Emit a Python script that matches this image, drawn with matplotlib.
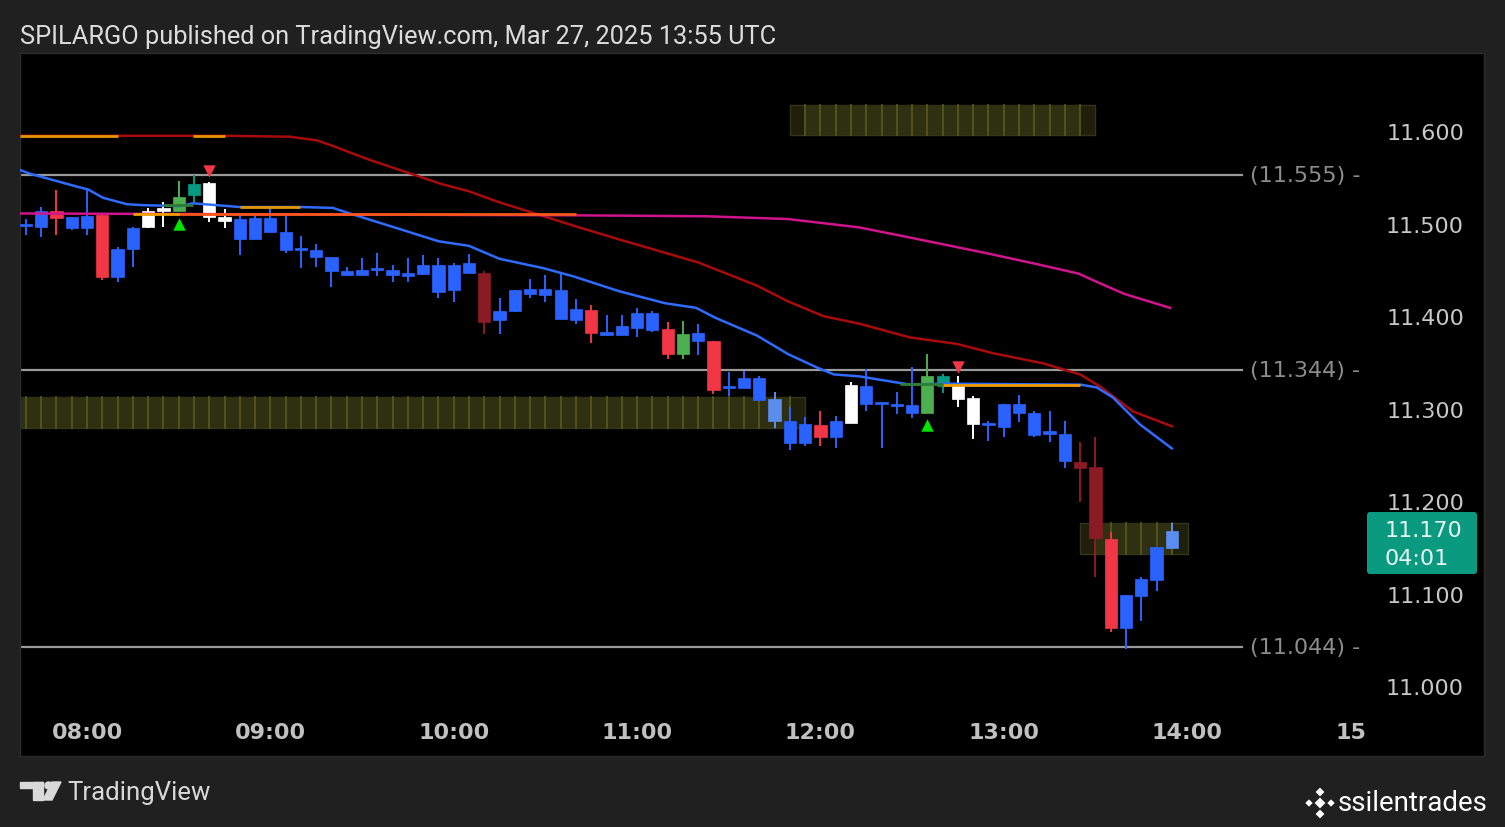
import numpy as np
import matplotlib
matplotlib.use("Agg")
import matplotlib.pyplot as plt
import matplotlib.transforms as mtrans
from matplotlib.patches import Rectangle, Polygon, Circle, FancyBboxPatch

# 5-minute bars, index 0 = 08:00 (first visible bar is 07:40)
bar_idx = np.arange(-4, 72)

opens = [11.499, 11.498, 11.516, 11.509, 11.497, 11.511, 11.444, 11.475, 11.498, 11.516,
         11.516, 11.533, 11.546, 11.509, 11.507, 11.485, 11.508, 11.493, 11.475, 11.474,
         11.466, 11.451, 11.447, 11.452, 11.452, 11.445, 11.448, 11.457, 11.430, 11.459,
         11.449, 11.398, 11.408, 11.431, 11.425, 11.430, 11.398, 11.409, 11.384, 11.382,
         11.389, 11.405, 11.388, 11.361, 11.384, 11.375, 11.324, 11.324, 11.335, 11.312,
         11.289, 11.265, 11.284, 11.271, 11.287, 11.326, 11.309, 11.307, 11.297, 11.297,
         11.326, 11.326, 11.313, 11.286, 11.282, 11.307, 11.297, 11.277, 11.275, 11.244,
         11.239, 11.161, 11.065, 11.099, 11.117, 11.151]
highs = [11.507, 11.520, 11.538, 11.509, 11.540, 11.512, 11.477, 11.498, 11.519, 11.525,
         11.548, 11.555, 11.547, 11.518, 11.510, 11.510, 11.519, 11.510, 11.489, 11.480,
         11.466, 11.455, 11.465, 11.470, 11.457, 11.465, 11.468, 11.465, 11.459, 11.469,
         11.451, 11.422, 11.430, 11.442, 11.446, 11.449, 11.421, 11.414, 11.403, 11.403,
         11.411, 11.408, 11.396, 11.397, 11.393, 11.375, 11.342, 11.343, 11.337, 11.320,
         11.304, 11.293, 11.299, 11.294, 11.331, 11.345, 11.309, 11.320, 11.347, 11.361,
         11.340, 11.337, 11.316, 11.289, 11.307, 11.317, 11.299, 11.299, 11.289, 11.266,
         11.271, 11.169, 11.101, 11.120, 11.152, 11.178]
lows = [11.490, 11.488, 11.490, 11.495, 11.490, 11.441, 11.439, 11.455, 11.497, 11.498,
        11.516, 11.525, 11.504, 11.497, 11.468, 11.485, 11.493, 11.470, 11.454, 11.455,
        11.434, 11.445, 11.446, 11.445, 11.439, 11.439, 11.447, 11.422, 11.417, 11.449,
        11.383, 11.383, 11.406, 11.422, 11.417, 11.399, 11.393, 11.373, 11.381, 11.382,
        11.379, 11.385, 11.356, 11.356, 11.360, 11.318, 11.316, 11.324, 11.310, 11.281,
        11.257, 11.262, 11.262, 11.260, 11.287, 11.299, 11.259, 11.296, 11.292, 11.297,
        11.319, 11.304, 11.269, 11.267, 11.271, 11.288, 11.271, 11.266, 11.238, 11.201,
        11.120, 11.061, 11.042, 11.072, 11.105, 11.151]
closes = [11.501, 11.516, 11.508, 11.497, 11.510, 11.444, 11.475, 11.497, 11.516, 11.518,
          11.531, 11.545, 11.509, 11.505, 11.485, 11.508, 11.493, 11.474, 11.473, 11.466,
          11.451, 11.447, 11.452, 11.454, 11.446, 11.449, 11.457, 11.428, 11.457, 11.449,
          11.396, 11.408, 11.430, 11.426, 11.431, 11.399, 11.410, 11.384, 11.382, 11.391,
          11.405, 11.387, 11.361, 11.383, 11.375, 11.322, 11.326, 11.335, 11.311, 11.289,
          11.265, 11.285, 11.271, 11.289, 11.328, 11.307, 11.307, 11.305, 11.306, 11.337,
          11.337, 11.312, 11.285, 11.284, 11.307, 11.297, 11.274, 11.275, 11.245, 11.238,
          11.162, 11.065, 11.101, 11.118, 11.152, 11.170]
# bar colour codes from the indicator colouring
bar_codes = ("bbrbbrbbwwgtww" + "bbbbbbbbbbbbbbbb" + "d" + "bbbbbb" + "r" + "bbbb"
             + "rgbr" + "bbb" + "l" + "bbrbw" + "bbbb" + "gtww" + "bbbbbb" + "ddr" + "bbb" + "l")

# moving averages, read at their bends (bar index, price)
fast_x = [-4.38, -3.73, -0.65, 0.07, 1.05, 2.62, 3.66, 6.09, 6.94, 10.0, 13.94, 16.1, 17.2,
          20.5, 23.0, 25.0, 27.0, 29.84, 31.84, 34.82, 37.83, 39.86, 41.16, 43.85, 45.88,
          47.84, 48.89, 50.52, 53.86, 56.0, 65.0, 66.08, 67.15, 68.91, 71.0]
fast_y = [11.560, 11.556, 11.542, 11.539, 11.530, 11.523, 11.522, 11.521, 11.524, 11.520,
          11.520, 11.519, 11.513, 11.496, 11.483, 11.478, 11.464, 11.454, 11.445, 11.429,
          11.416, 11.411, 11.400, 11.381, 11.361, 11.346, 11.339, 11.337, 11.328, 11.329,
          11.328, 11.325, 11.314, 11.285, 11.259]
mid_x = [-4.38, 2.03, 9.03, 13.29, 15.05, 16.1, 18.32, 20.48, 23.17, 25.0, 27.0, 29.52, 32.0,
         34.82, 38.15, 40.02, 43.85, 45.88, 48.2, 50.52, 53.86, 56.94, 59.29, 62.57, 65.0,
         66.3, 68.46, 71.0]
mid_y = [11.597, 11.597, 11.597, 11.596, 11.592, 11.586, 11.572, 11.560, 11.545, 11.537,
         11.525, 11.512, 11.499, 11.485, 11.469, 11.460, 11.435, 11.418, 11.402, 11.394,
         11.379, 11.372, 11.362, 11.351, 11.339, 11.326, 11.299, 11.283]
slow_x = [-4.38, 32.0, 40.5, 45.88, 50.52, 53.86, 58.9, 62.24, 64.9, 66.23, 67.9, 70.88]
slow_y = [11.513, 11.511, 11.510, 11.507, 11.498, 11.487, 11.470, 11.458, 11.448, 11.438,
          11.426, 11.411]

# short level segments: start bar, end bar, price, colour
seg_x0 = [-4.38, 6.94, 3.0, 6.1, 10.0, 56.0, 5.0, 53.2]
seg_x1 = [2.03, 9.03, 6.1, 32.0, 13.94, 65.0, 6.94, 56.0]
seg_y = [11.597, 11.597, 11.512, 11.512, 11.520, 11.328, 11.522, 11.329]
seg_col = ["#e69500", "#e69500", "#f0a000", "#f8561a", "#e69500", "#f29d00", "#2e7d32", "#2e7d32"]

# zones: start bar, end bar, low, high
zone_x0 = [46.0, -6.0, 65.0]
zone_x1 = [66.0, 47.0, 72.05]
zone_lo = [11.598, 11.281, 11.145]
zone_hi = [11.630, 11.3146, 11.178]

levels = [11.555, 11.344, 11.044]
buy_x, buy_y = [6, 55], [11.502, 11.284]
sell_x, sell_y = [8, 57], [11.559, 11.347]

price_ticks = [11.000, 11.100, 11.200, 11.300, 11.400, 11.500, 11.600]
time_pos = [0, 12, 24, 36, 48, 60, 72, 82.7]
time_labels = ["08:00", "09:00", "10:00", "11:00", "12:00", "13:00", "14:00", "15"]
last_price = "11.170"
countdown = "04:01"

palette = {"b": "#2962ff", "r": "#f23645", "d": "#8a1a24", "g": "#4caf50",
           "t": "#089981", "w": "#ffffff", "l": "#5b8def"}

W, H = 1505, 828
fig = plt.figure(figsize=(W / 100, H / 100), dpi=100)
fig.patch.set_facecolor("#202020")

ax = fig.add_axes([20 / W, 71 / H, 1464 / W, 703 / H])
ax.set_facecolor("black")
ax.set_xlim(-4.385, 91.43)
ax.set_ylim(10.9265, 11.6865)
ax.set_xticks([])
ax.set_yticks([])
for sp in ax.spines.values():
    sp.set_color("#2c2c2c")
    sp.set_linewidth(1)

# zones with striped fill
for x0, x1, lo, hi in zip(zone_x0, zone_x1, zone_lo, zone_hi):
    ax.add_patch(Rectangle((x0, lo), x1 - x0, hi - lo, facecolor="#1f1f0b",
                           edgecolor="#35351a", lw=1, zorder=1))
    ix0, ix1 = x0 + 1, x1 - 1
    ax.add_patch(Rectangle((ix0, lo), ix1 - ix0, hi - lo, facecolor="#2f2f12",
                           edgecolor="none", zorder=1.1))
    for s in range(int(np.ceil(ix0)), int(np.floor(ix1)) + 1):
        ax.plot([s, s], [lo, hi], color="#55551e", lw=1.3, zorder=1.2)

# horizontal levels
trans = mtrans.blended_transform_factory(ax.transAxes, ax.transData)
for lv in levels:
    ax.axhline(lv, xmin=0, xmax=(1242 - 20) / 1464, color="#9a9a9a", lw=1.6, zorder=2)
    ax.text((1250 - 20) / 1464, lv, f"({lv:.3f}) -", transform=trans, ha="left",
            va="center", color="#8c8c8c", fontsize=16)

# candles
o = np.array(opens)
c = np.array(closes)
cols = [palette[k] for k in bar_codes]
ax.vlines(bar_idx, lows, highs, colors=cols, lw=1.4, zorder=3)
body_lo = np.minimum(o, c)
body_h = np.maximum(np.abs(c - o), 0.0025)
ax.bar(bar_idx, body_h, bottom=body_lo, width=0.8, color=cols, edgecolor=cols,
       linewidth=0.5, zorder=4)

# moving averages
ax.plot(mid_x, mid_y, color="#a80b0b", lw=1.8, zorder=5)
ax.plot(slow_x, slow_y, color="#d0148c", lw=1.8, zorder=5)
ax.plot(fast_x, fast_y, color="#2f6bff", lw=1.8, zorder=5)
for x0, x1, y, col in zip(seg_x0, seg_x1, seg_y, seg_col):
    ax.plot([x0, x1], [y, y], color=col, lw=2, zorder=6, solid_capstyle="butt")

# signals
ax.scatter(buy_x, buy_y, marker="^", s=80, color="#00e600", zorder=7, linewidths=0)
ax.scatter(sell_x, sell_y, marker="v", s=80, color="#f23645", zorder=7, linewidths=0)

# price axis and time axis labels (inside the black panel)
for p in price_ticks:
    ax.text((1464 - 20) / 1464, p, f"{p:.3f}", transform=trans, ha="right", va="center",
            color="#c8c8c8", fontsize=16)
tx = mtrans.blended_transform_factory(ax.transData, ax.transAxes)
for pos, lab in zip(time_pos, time_labels):
    ax.text(pos, 0.0335, lab, transform=tx, ha="center", va="center", color="#c0c0c0",
            fontsize=16, fontweight="bold")

# overlay in pixel coordinates for header, footer and price tag
ov = fig.add_axes([0, 0, 1, 1])
ov.set_xlim(0, W)
ov.set_ylim(H, 0)
ov.axis("off")
ov.patch.set_alpha(0)

ov.text(20, 37, "SPILARGO published on TradingView.com, Mar 27, 2025 13:55 UTC",
        ha="left", va="center", color="#dcdcdc", fontsize=18.3, family="Roboto")

ov.add_patch(FancyBboxPatch((1367, 513), 110, 62, boxstyle="round,pad=0,rounding_size=3",
                            facecolor="#0a9a80", edgecolor="none"))
ov.text(1385, 531, last_price, ha="left", va="center", color="#e9f7f3", fontsize=16)
ov.text(1385, 559, countdown, ha="left", va="center", color="#e9f7f3", fontsize=16)

# TradingView logo + name
logo_col = "#d9d9d9"
ov.add_patch(Rectangle((20, 783), 23, 6, color=logo_col))
ov.add_patch(Rectangle((33, 783), 10, 18, color=logo_col))
ov.add_patch(Circle((48.5, 786.5), 3.5, color=logo_col))
ov.add_patch(Polygon([(52, 783), (61, 783), (52, 801), (43, 801)], closed=True, color=logo_col))
ov.text(67, 793, "TradingView", ha="left", va="center", color="#d9d9d9", fontsize=18.5,
        family="Roboto")

# watermark
ov.scatter([1320, 1309, 1331, 1320, 1320], [804, 804, 804, 793, 815], marker="D",
           s=[30, 14, 14, 20, 20], color="white", linewidths=0)
ov.text(1338, 804, "ssilentrades", ha="left", va="center", color="white", fontsize=20,
        family="Roboto")

fig.savefig("out.png", dpi=100, facecolor=fig.get_facecolor())
